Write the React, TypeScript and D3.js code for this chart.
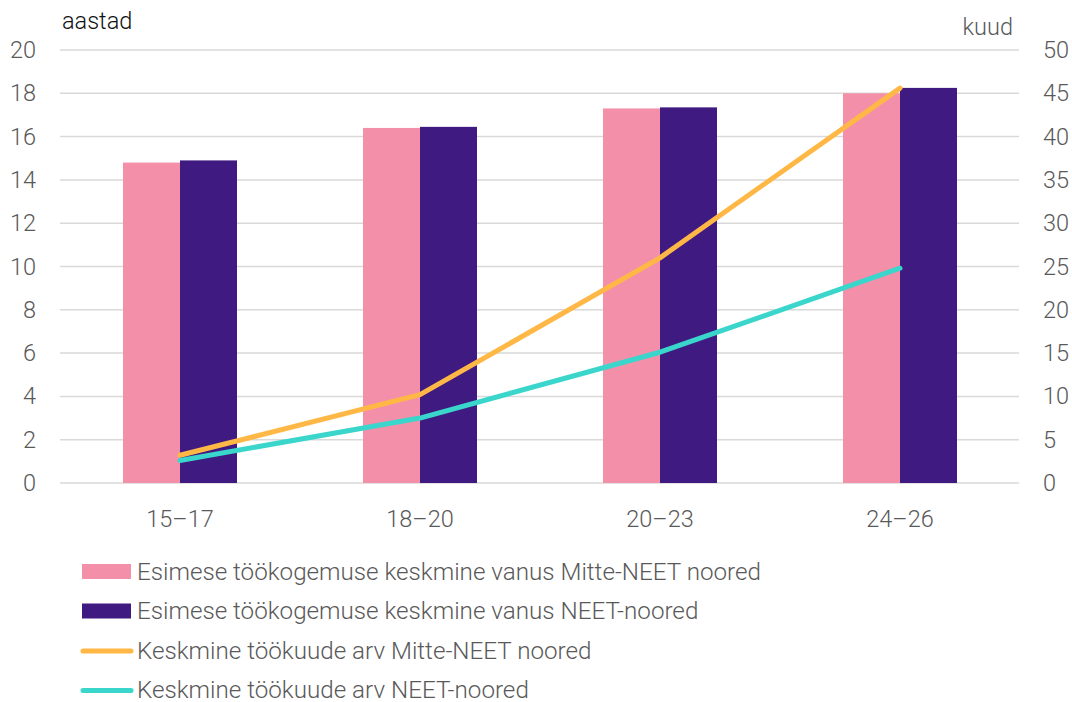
import React from "react";
import * as d3 from "d3";

const categories = ["15–17", "18–20", "20–23", "24–26"];
const barNonNeet = [14.8, 16.4, 17.3, 18.0];
const barNeet = [14.9, 16.45, 17.35, 18.25];
const lineNonNeet = [3.2, 10.2, 26.0, 45.6];
const lineNeet = [2.6, 7.5, 15.1, 24.8];
const leftTicks = [0, 2, 4, 6, 8, 10, 12, 14, 16, 18, 20];
const rightTicks = [0, 5, 10, 15, 20, 25, 30, 35, 40, 45, 50];
const legendLabels = [
  "Esimese töökogemuse keskmine vanus Mitte-NEET noored",
  "Esimese töökogemuse keskmine vanus NEET-noored",
  "Keskmine töökuude arv Mitte-NEET noored",
  "Keskmine töökuude arv NEET-noored",
];

const W = 1072, H = 702;
const PINK = "#F48FA9", PURPLE = "#3F1A80", ORANGE = "#FFB845", TEAL = "#3AD6CC";
const FONT = "Roboto, 'Noto Sans', sans-serif";

export default function App() {
  const x = d3.scaleBand<string>().domain(categories).range([60, 1020]).paddingInner(0.525).paddingOuter(0.2625);
  const yL = d3.scaleLinear().domain([0, 20]).range([483, 50]);
  const yR = d3.scaleLinear().domain([0, 50]).range([483, 50]);
  const bw = x.bandwidth() / 2;
  const cx = (c: string) => (x(c) as number) + x.bandwidth() / 2;
  const line = d3.line<number>().x((_, i) => cx(categories[i])).y((d) => yR(d));
  const legendColors = [PINK, PURPLE, ORANGE, TEAL];
  return (
    <svg width={W} height={H} style={{ position: "absolute", left: 0, top: 0, background: "#fff" }} fontFamily={FONT}>
      {leftTicks.map((t) => (
        <g key={t}>
          <line x1={60} x2={1019} y1={yL(t)} y2={yL(t)} stroke="#d9d9d9" strokeWidth={1.5} />
          <text x={36} y={yL(t) + 8} textAnchor="end" fontSize={23.5} fontWeight={300} fill="#595959">{t}</text>
        </g>
      ))}
      {rightTicks.map((t) => (
        <text key={t} x={1043} y={yR(t) + 8} textAnchor="start" fontSize={23.5} fontWeight={300} fill="#595959">{t}</text>
      ))}
      <text x={62} y={29} fontSize={23.5} fontWeight={300} fill="#111">aastad</text>
      <text x={1013} y={35} textAnchor="end" fontSize={23.5} fontWeight={300} fill="#595959">kuud</text>
      {categories.map((c, i) => (
        <g key={c}>
          <rect x={x(c)} y={yL(barNonNeet[i])} width={bw} height={yL(0) - yL(barNonNeet[i])} fill={PINK} />
          <rect x={(x(c) as number) + bw} y={yL(barNeet[i])} width={bw} height={yL(0) - yL(barNeet[i])} fill={PURPLE} />
          <text x={cx(c)} y={527} textAnchor="middle" fontSize={23.5} fontWeight={300} fill="#595959">{c}</text>
        </g>
      ))}
      <path d={line(lineNonNeet) || ""} fill="none" stroke={ORANGE} strokeWidth={5} strokeLinecap="round" strokeLinejoin="round" />
      <path d={line(lineNeet) || ""} fill="none" stroke={TEAL} strokeWidth={5} strokeLinecap="round" strokeLinejoin="round" />
      {legendLabels.map((l, i) => {
        const yc = 571 + i * 39.5;
        return (
          <g key={l}>
            {i < 2 ? (
              <rect x={82} y={yc - 7} width={49} height={15} fill={legendColors[i]} />
            ) : (
              <line x1={83} x2={131} y1={yc + 1} y2={yc + 1} stroke={legendColors[i]} strokeWidth={5} strokeLinecap="round" />
            )}
            <text x={137} y={yc + 8.5} fontSize={24.2} fontWeight={300} fill="#595959">{l}</text>
          </g>
        );
      })}
    </svg>
  );
}
